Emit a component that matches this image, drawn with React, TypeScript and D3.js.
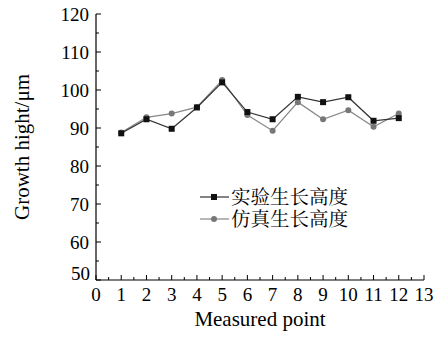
import React from 'react';
import * as d3 from 'd3';

const points = [1, 2, 3, 4, 5, 6, 7, 8, 9, 10, 11, 12];
const experimental = [88.6, 92.3, 89.8, 95.4, 102.0, 94.2, 92.3, 98.2, 96.8, 98.1, 91.9, 92.6];
const simulated = [88.8, 92.8, 93.8, 95.5, 102.6, 93.4, 89.3, 96.8, 92.3, 94.7, 90.3, 93.8];
const xTicks = d3.range(0, 14);
const yTicks = [50, 60, 70, 80, 90, 100, 110, 120];
const seriesNames = ['实验生长高度', '仿真生长高度'];

const W = 446, H = 337;
const margin = { left: 96, right: 22, top: 14, bottom: 57 };

export default function App() {
  const x = d3.scaleLinear().domain([0, 13]).range([margin.left, W - margin.right]);
  const y = d3.scaleLinear().domain([50, 120]).range([H - margin.bottom, margin.top]);
  const line = d3.line<number>().x((d, i) => x(points[i])).y(d => y(d));

  const x0 = x(0), y0 = y(50);
  const serif = '"Liberation Serif", "Times New Roman", serif';
  const cjk = '"Noto Serif CJK SC", "Noto Sans CJK SC", serif';

  const expColor = '#111', expLine = '#333';
  const simColor = '#777', simLine = '#888';

  const legendY = 197, legendGap = 22;

  return (
    <svg width={W} height={H} style={{ position: 'absolute', left: 0, top: 0, background: '#fff' }}>
      {/* axes */}
      <line x1={x0} x2={x0} y1={y(120)} y2={y0} stroke="#000" strokeWidth={1.2} />
      <line x1={x0} x2={x(13)} y1={y0} y2={y0} stroke="#000" strokeWidth={1.2} />
      {yTicks.map(t => (
        <g key={'y' + t}>
          <line x1={x0} x2={x0 + 5} y1={y(t)} y2={y(t)} stroke="#000" />
          {t < 120 && <line x1={x0} x2={x0 + 3} y1={y(t + 5)} y2={y(t + 5)} stroke="#000" />}
          <text x={t === 50 ? x0 - 6 : x0 - 7} y={y(t) + (t === 50 ? 0 : 6.5)} textAnchor="end"
            fontFamily={serif} fontSize={19}>{t}</text>
        </g>
      ))}
      {xTicks.map(t => (
        <g key={'x' + t}>
          <line x1={x(t)} x2={x(t)} y1={y0} y2={y0 - 5} stroke="#000" />
          {t < 13 && <line x1={x(t + 0.5)} x2={x(t + 0.5)} y1={y0} y2={y0 - 3} stroke="#000" />}
          <text x={x(t)} y={y0 + 21} textAnchor="middle" fontFamily={serif} fontSize={19}>{t}</text>
        </g>
      ))}
      <text x={(x0 + x(13)) / 2} y={326} textAnchor="middle" fontFamily={serif} fontSize={21}>Measured point</text>
      <text transform={`translate(29,${(y(120) + y0) / 2}) rotate(-90)`} textAnchor="middle"
        fontFamily={serif} fontSize={21}>Growth hight/μm</text>

      {/* series */}
      <path d={line(simulated) || ''} fill="none" stroke={simLine} strokeWidth={1.2} />
      {simulated.map((v, i) => (
        <circle key={'s' + i} cx={x(points[i])} cy={y(v)} r={3} fill={simColor} />
      ))}
      <path d={line(experimental) || ''} fill="none" stroke={expLine} strokeWidth={1.2} />
      {experimental.map((v, i) => (
        <rect key={'e' + i} x={x(points[i]) - 3} y={y(v) - 3} width={6} height={6} fill={expColor} />
      ))}

      {/* legend */}
      {seriesNames.map((name, i) => {
        const ly = legendY + i * legendGap;
        const c = i === 0 ? expColor : simColor;
        const lc = i === 0 ? expLine : simLine;
        return (
          <g key={name}>
            <line x1={200} x2={229} y1={ly} y2={ly} stroke={lc} strokeWidth={1.2} />
            {i === 0
              ? <rect x={211} y={ly - 3} width={6} height={6} fill={c} />
              : <circle cx={214} cy={ly} r={3} fill={c} />}
          </g>
        );
      })}
      <text fontFamily={cjk} fontSize={19.5}>
        {seriesNames.map((name, i) => (
          <tspan key={name} x={231} y={legendY + i * legendGap + 7}>{name}</tspan>
        ))}
      </text>
    </svg>
  );
}
